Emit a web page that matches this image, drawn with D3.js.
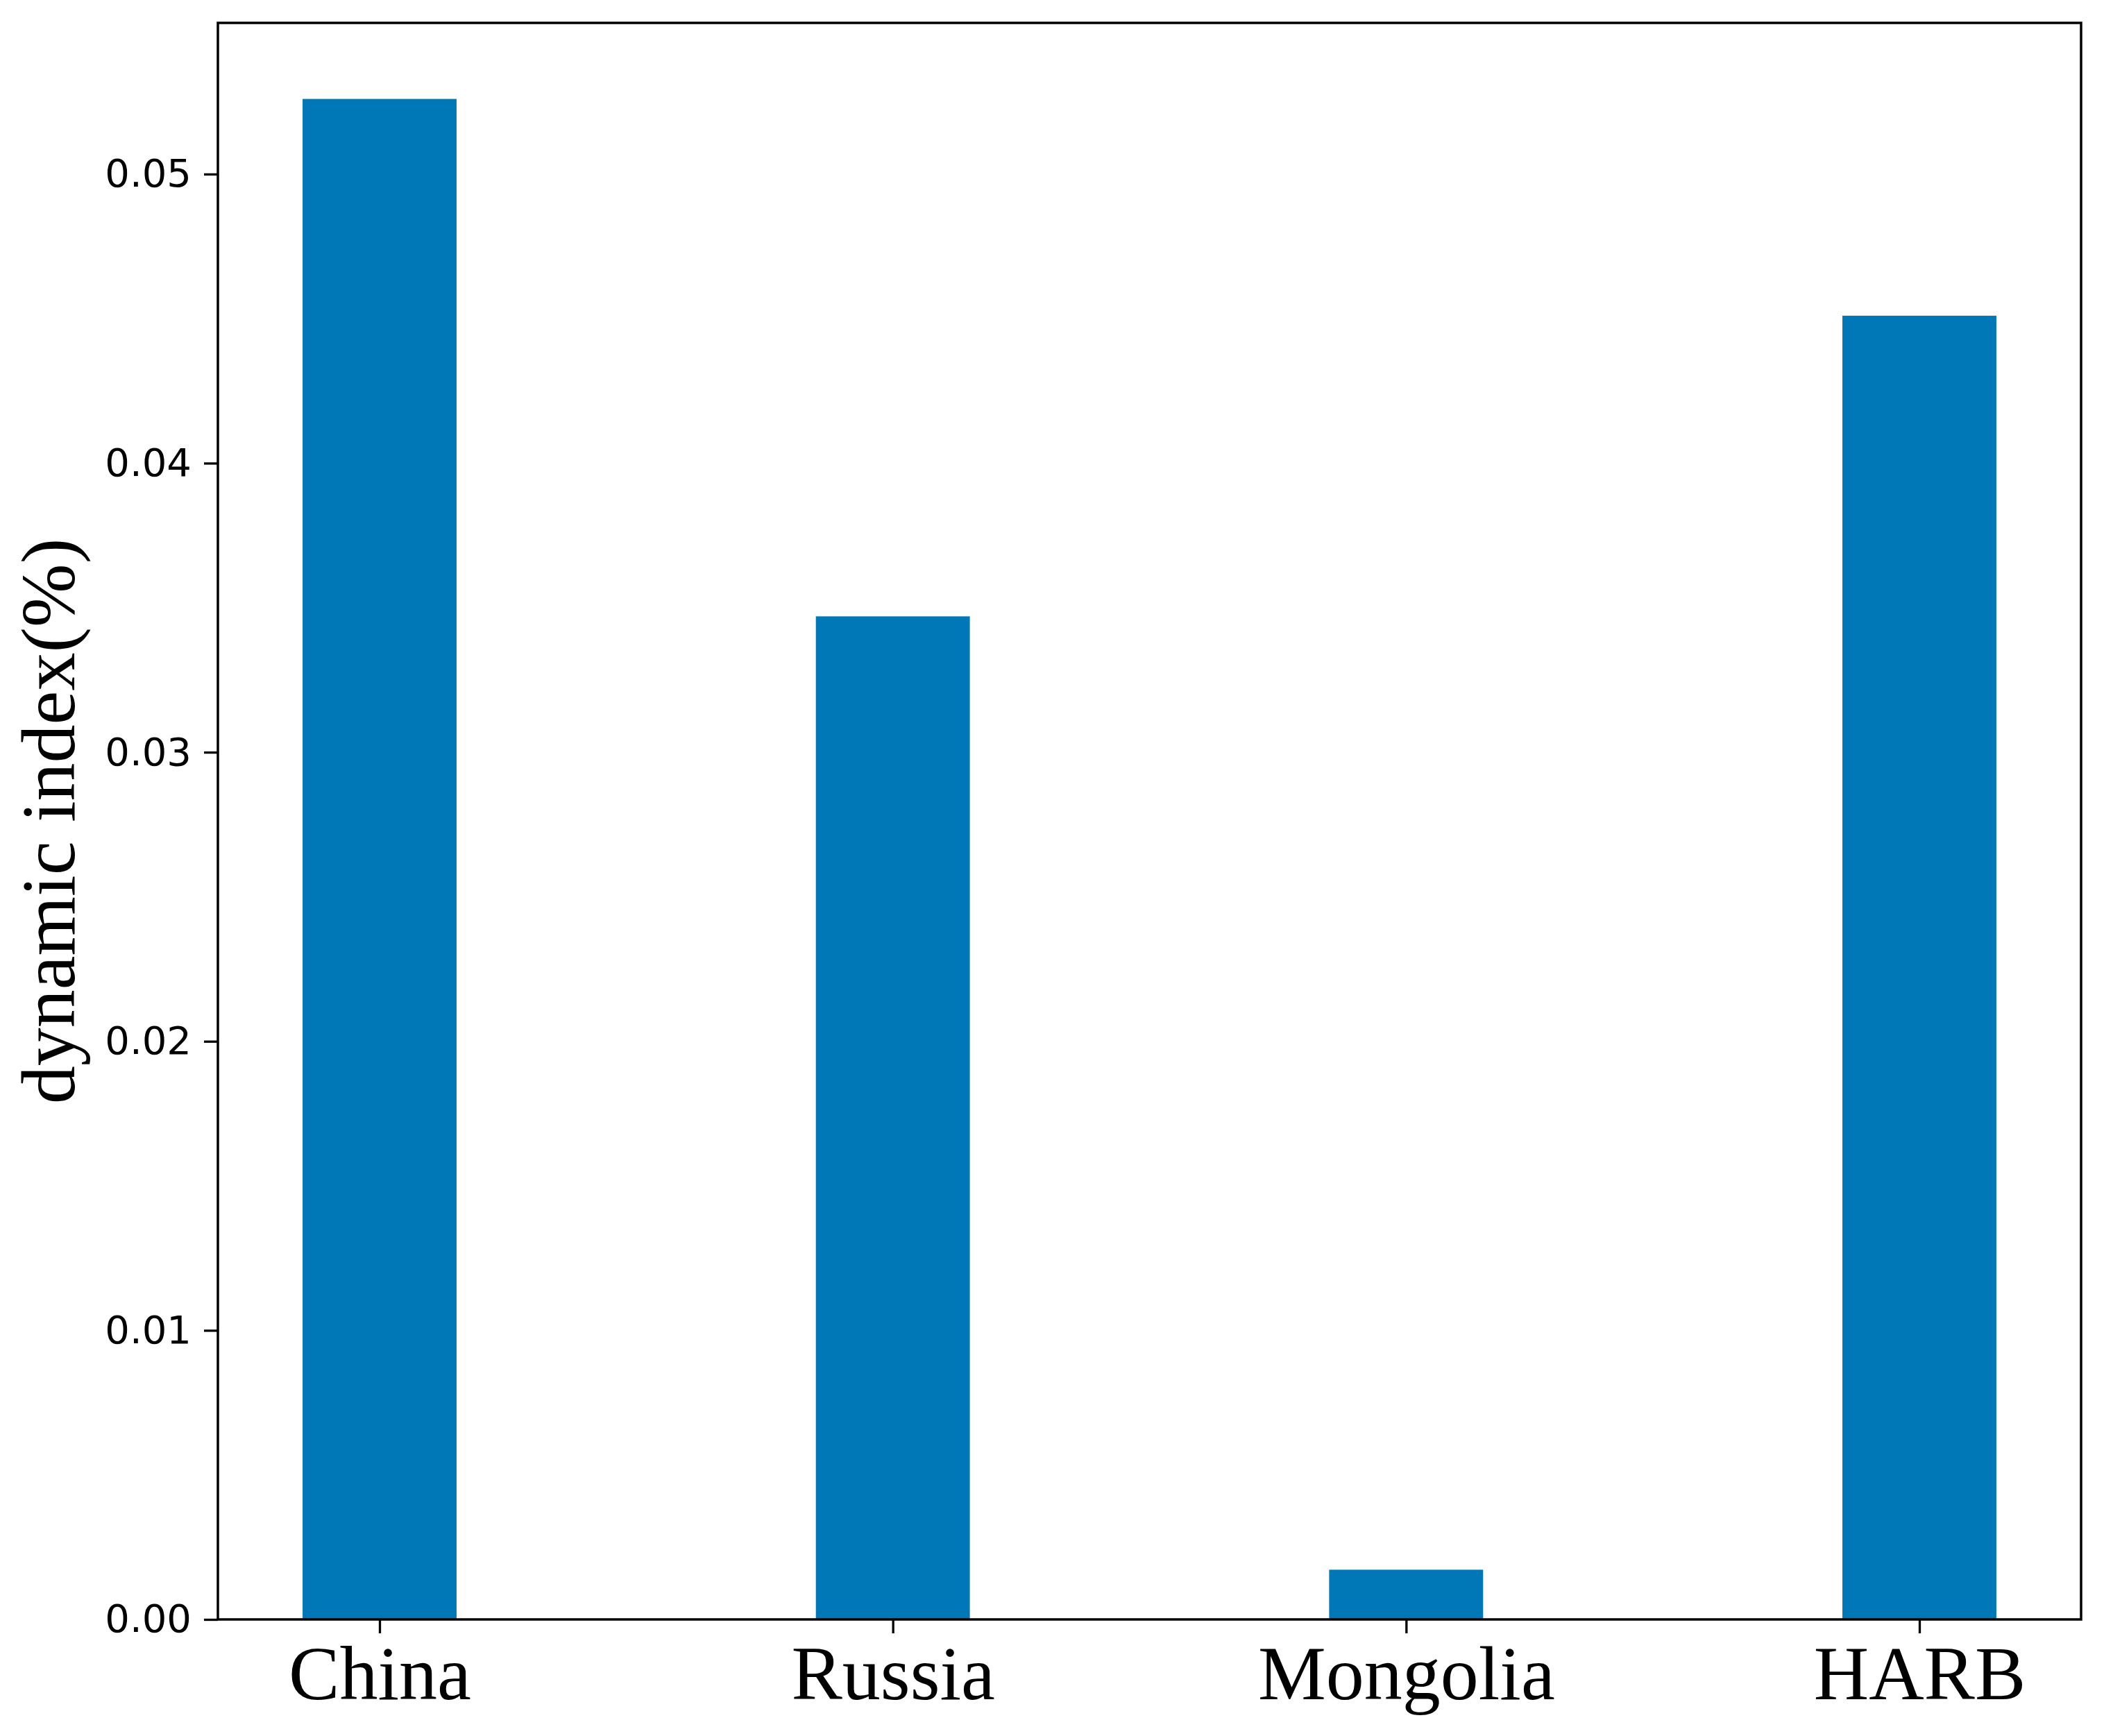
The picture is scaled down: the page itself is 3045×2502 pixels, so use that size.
<!DOCTYPE html>
<html>
<head>
<meta charset="utf-8">
<script src="https://cdn.jsdelivr.net/npm/d3@7"></script>
<style>
  html, body { margin: 0; padding: 0; background: #fff; }
  svg { display: block; }
</style>
</head>
<body>
<svg id="chart" width="3045" height="2502"></svg>
<script>
const categories = ["China", "Russia", "Mongolia", "HARB"];
const values = [0.0526, 0.0347, 0.00172, 0.0451];
const yTicks = [0.00, 0.01, 0.02, 0.03, 0.04, 0.05];
const yLabel = "dynamic index(%)";

const W = 3045, H = 2502;
const plot = { left: 314, right: 2999, top: 33, bottom: 2334 };
const barWidth = 0.3;
const n = categories.length;
const xPad = barWidth / 2 + (n - 1 + barWidth) * 0.05;

const svg = d3.select("#chart");
svg.append("rect").attr("width", W).attr("height", H).attr("fill", "#fff");

const x = d3.scaleLinear()
  .domain([-xPad, n - 1 + xPad])
  .range([plot.left, plot.right]);
const y = d3.scaleLinear()
  .domain([0, d3.max(values) * 1.05])
  .range([plot.bottom, plot.top]);

// bars
svg.append("g").selectAll("rect")
  .data(values)
  .join("rect")
  .attr("x", (d, i) => x(i - barWidth / 2))
  .attr("width", (d, i) => x(i + barWidth / 2) - x(i - barWidth / 2))
  .attr("y", d => y(d))
  .attr("height", d => y(0) - y(d))
  .attr("fill", "#0078b8");

// y axis
const yAxis = svg.append("g")
  .attr("transform", `translate(${plot.left},0)`)
  .call(d3.axisLeft(y).tickValues(yTicks).tickFormat(d3.format(".2f")).tickSize(20).tickPadding(18));
yAxis.select(".domain").remove();
yAxis.selectAll(".tick line").attr("stroke", "#000").attr("stroke-width", 3.3);
yAxis.selectAll(".tick text")
  .attr("font-family", "DejaVu Sans")
  .attr("font-size", 56)
  .attr("fill", "#000");

// x axis
const xAxis = svg.append("g")
  .attr("transform", `translate(0,${plot.bottom})`)
  .call(d3.axisBottom(x).tickValues(d3.range(n)).tickFormat(i => categories[i]).tickSize(20).tickPadding(17));
xAxis.select(".domain").remove();
xAxis.selectAll(".tick line").attr("stroke", "#000").attr("stroke-width", 3.3);
xAxis.selectAll(".tick text")
  .attr("font-family", "Liberation Serif")
  .attr("font-size", 110)
  .attr("fill", "#000");

// frame
svg.append("rect")
  .attr("x", plot.left).attr("y", plot.top)
  .attr("width", plot.right - plot.left).attr("height", plot.bottom - plot.top)
  .attr("fill", "none").attr("stroke", "#000").attr("stroke-width", 3.5);

// y label
svg.append("text")
  .attr("transform", `translate(107,${(plot.top + plot.bottom) / 2}) rotate(-90)`)
  .attr("text-anchor", "middle")
  .attr("font-family", "Liberation Serif")
  .attr("font-size", 110)
  .attr("fill", "#000")
  .text(yLabel);
</script>
</body>
</html>
